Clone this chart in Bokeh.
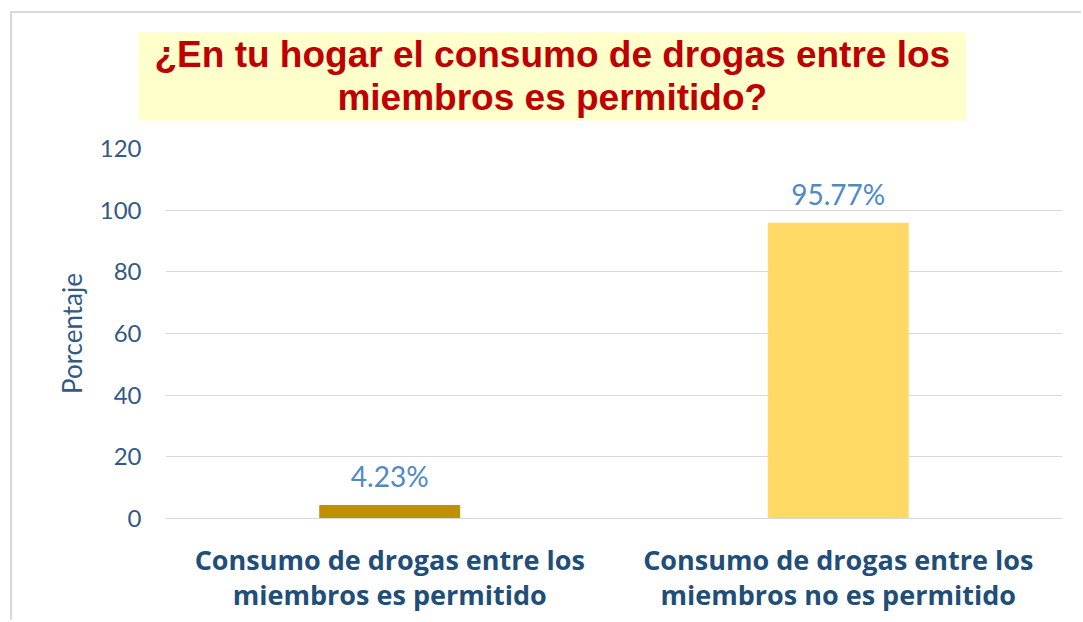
from bokeh.plotting import figure
from bokeh.models import FactorRange, ColumnDataSource, SingleIntervalTicker, Title
from bokeh.core.properties import value
from bokeh.embed import file_html
from bokeh.resources import INLINE

categories = ["Consumo de drogas entre los\nmiembros es permitido",
              "Consumo de drogas entre los\nmiembros no es permitido"]
values = [4.23, 95.77]
value_labels = ["4.23%", "95.77%"]
bar_colors = ["#BF9000", "#FFD966"]
title_text = "¿En tu hogar el consumo de drogas entre los\nmiembros es permitido?"
y_title = "Porcentaje"

W, H = 1071, 609
FL, FR, FT, FB = 153, 1050, 135, 505  # frame edges in canvas px
p = figure(width=W, height=H, output_backend="svg", toolbar_location=None,
           x_range=FactorRange(*categories, range_padding=0), y_range=(0, 120),
           min_border_left=FL, min_border_right=W - FR, min_border_top=FT, min_border_bottom=H - FB)
p.styles = {"margin-left": "10px", "margin-top": "11px",
            "border-left": "2px solid #D9D9D9", "border-top": "2px solid #D9D9D9"}
p.outline_line_color = None
p.background_fill_color = "white"
p.border_fill_color = "white"

src = ColumnDataSource(dict(cat=categories, val=values, lab=value_labels, col=bar_colors))
p.vbar(x="cat", top="val", width=0.312, color="col", source=src)
p.text(x="cat", y="val", text="lab", source=src, text_align="center", text_baseline="middle",
       y_offset=-29, text_font=value("Lato"), text_font_size="28px", text_color="#4F89C6")

# axes
p.yaxis.ticker = SingleIntervalTicker(interval=20)
p.yaxis.axis_line_color = None
p.yaxis.major_tick_line_color = None
p.yaxis.minor_tick_line_color = None
p.yaxis.major_label_standoff = 18
p.yaxis.major_label_text_font = "Lato"
p.yaxis.major_label_text_font_size = "24px"
p.yaxis.major_label_text_color = "#335A87"
p.yaxis.axis_label = y_title
p.yaxis.axis_label_text_font = "Lato"
p.yaxis.axis_label_text_font_style = "normal"
p.yaxis.axis_label_text_font_size = "26px"
p.yaxis.axis_label_text_color = "#335A87"
p.yaxis.axis_label_standoff = 9

p.xaxis.axis_line_color = "#D9D9D9"
p.xaxis.major_tick_line_color = None
p.xaxis.minor_tick_line_color = None
p.xaxis.major_label_standoff = 16
p.xaxis.major_label_text_font = "Open Sans"
p.xaxis.major_label_text_font_style = "bold"
p.xaxis.major_label_text_font_size = "27px"
p.xaxis.major_label_text_color = "#1F4E79"
p.xaxis.major_label_text_line_height = 0.95

p.xgrid.grid_line_color = None
p.ygrid.grid_line_color = "#D9D9D9"
p.ygrid.grid_line_width = 1

# spacer between frame and title box
spacer = Title(text=" ", text_font_size="10px", standoff=0)
p.add_layout(spacer, "above")

# title box
box_title = Title(text=title_text, align="left", text_align="center", offset=-27, standoff=30,
                  text_font="Liberation Sans", text_font_style="bold", text_font_size="37px",
                  text_color="#C00000", text_line_height=1.05,
                  background_fill_color="#FFFFCC", padding=(16, 2))
p.add_layout(box_title, "above")

open("out.html", "w").write(file_html(p, INLINE))
